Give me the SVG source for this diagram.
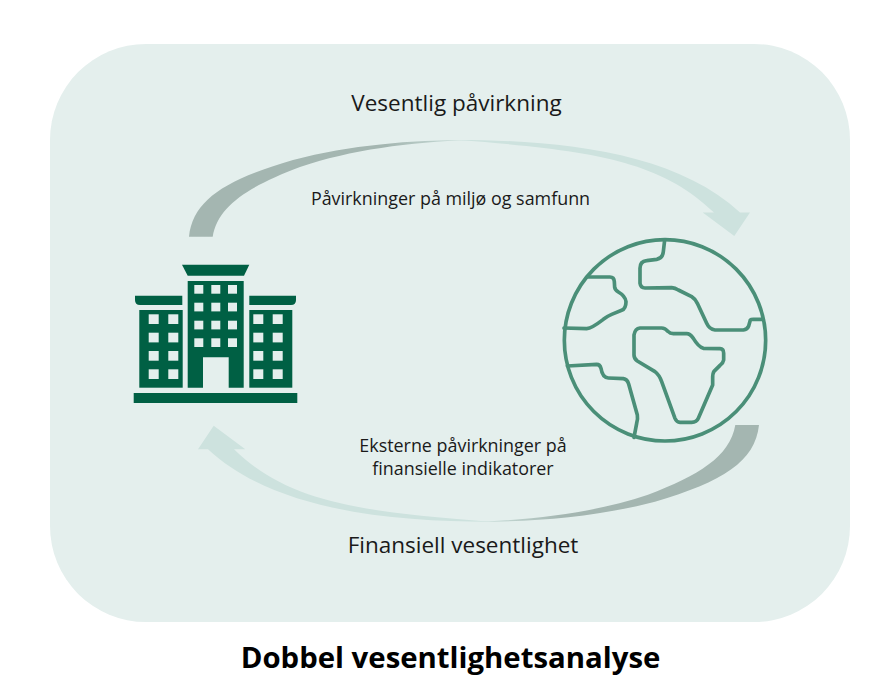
<svg xmlns="http://www.w3.org/2000/svg" width="893" height="675" viewBox="0 0 893 675">
<style>
text{font-family:"Open Sans","Noto Sans",sans-serif;fill:#1a1a1a;text-anchor:middle}
.big{font-size:22.5px}.small{font-size:17.9px}
.title{font-size:29.35px;font-weight:700;fill:#000}
.b{fill:#006044}.w{fill:#e4efed}
.g{fill:none;stroke:#4a8f78;stroke-width:11;stroke-linejoin:round;stroke-linecap:round}
</style>
<defs>
<linearGradient id="dark" x1="0" x2="1" y1="0" y2="0"><stop offset="0" stop-color="#a4b6b1"/><stop offset="0.7" stop-color="#a4b6b1"/><stop offset="1" stop-color="#cde2de"/></linearGradient>
<path id="arcL" d="M189,236.7C193,200 225,180 293,160C350,145 410,140 470,140C410,142 350,150 300,167C250,186 218,205 212.7,236.7Z" fill="url(#dark)"/>
<path id="arcR" d="M458,140C560,140 675,152 740,212.5H750L734.3,236L702.7,212.5H714C660,160 590,150 458,140Z" fill="#cde2de"/>
</defs>
<rect id="panel" x="50" y="44" width="800" height="578" rx="96" ry="96" fill="#e4efed"/>
<g id="connectors">
<g id="top-arrow"><use href="#arcL"/><use href="#arcR"/></g>
<g id="bottom-arrow" transform="rotate(180 474 330.85)"><use href="#arcL"/><use href="#arcR"/></g>
</g>
<g id="building">
<path class="b" d="M182,264.7H249.3L244,275.7H187.7Z"/>
<path class="b" d="M187.7,281H243.7V387.7H228.7V357.3H203V387.7H187.7Z"/>
<path class="b" d="M135,295.7H182.3V305H140Q135,305 135,300Z"/>
<path class="b" d="M249.3,295.7H296V300Q296,305 291,305H249.3Z"/>
<rect class="b" x="139.3" y="310" width="43.4" height="77.7"/>
<rect class="b" x="249.3" y="310" width="43" height="77.7"/>
<rect class="b" x="133.7" y="393" width="163.6" height="10"/>
<g class="w">
<rect x="194.3" y="285" width="9" height="8.7"/><rect x="211.3" y="285" width="9" height="8.7"/><rect x="228" y="285" width="9" height="8.7"/>
<rect x="194.3" y="302.7" width="9" height="8.7"/><rect x="211.3" y="302.7" width="9" height="8.7"/><rect x="228" y="302.7" width="9" height="8.7"/>
<rect x="194.3" y="320.7" width="9" height="8.7"/><rect x="211.3" y="320.7" width="9" height="8.7"/><rect x="228" y="320.7" width="9" height="8.7"/>
<rect x="194.3" y="338.3" width="9" height="8.7"/><rect x="211.3" y="338.3" width="9" height="8.7"/><rect x="228" y="338.3" width="9" height="8.7"/>
<rect x="148.7" y="314.3" width="10" height="9.7"/><rect x="168.3" y="314.3" width="10" height="9.7"/>
<rect x="148.7" y="332.7" width="10" height="9.7"/><rect x="168.3" y="332.7" width="10" height="9.7"/>
<rect x="148.7" y="351" width="10" height="9.7"/><rect x="168.3" y="351" width="10" height="9.7"/>
<rect x="148.7" y="369.3" width="10" height="9.7"/><rect x="168.3" y="369.3" width="10" height="9.7"/>
<rect x="253.3" y="314.3" width="10" height="9.7"/><rect x="272.7" y="314.3" width="10" height="9.7"/>
<rect x="253.3" y="332.7" width="10" height="9.7"/><rect x="272.7" y="332.7" width="10" height="9.7"/>
<rect x="253.3" y="351" width="10" height="9.7"/><rect x="272.7" y="351" width="10" height="9.7"/>
<rect x="253.3" y="369.3" width="10" height="9.7"/><rect x="272.7" y="369.3" width="10" height="9.7"/>
</g>
</g>
<g id="globe" transform="translate(550 230) scale(0.33333)">
<circle class="g" cx="345" cy="331" r="302"/>
<path class="g" d="M344,30L340,65Q338,85 320,88L290,92Q270,94 270,115L270,160Q272,174 285,174L365,173Q375,174 385,180L425,200Q435,206 442,220L470,280Q478,298 495,300L580,300Q592,298 596,288L601,270Q603,268 610,268L640,268"/>
<path class="g" d="M112,141L180,141Q192,141 193,155L194,172Q195,180 205,186Q226,198 228,215Q228,236 215,241L185,253Q175,257 160,268Q125,295 110,296L42,294"/>
<path class="g" d="M52,408L140,403Q150,403 153,415Q157,443 175,444L220,446Q232,448 236,462L262,555Q264,565 260,580L252,622"/>
<path class="g" d="M270,294L335,294Q345,294 355,305Q360,311 370,311L410,311Q420,311 430,325Q445,350 460,355L510,356Q521,356 521,370L521,390Q520,398 510,406L492,424Q488,430 488,445L488,465L445,565Q440,577 425,577L390,577Q380,577 375,565L335,455Q328,435 315,425L262,393Q252,386 252,375L252,315Q255,296 270,294Z"/>
</g>
<text class="big" x="456.5" y="111">Vesentlig påvirkning</text>
<text class="small" x="450.5" y="205">Påvirkninger på miljø og samfunn</text>
<text class="small" x="463" y="452">Eksterne påvirkninger på</text>
<text class="small" x="463" y="475">finansielle indikatorer</text>
<text class="big" x="463" y="553">Finansiell vesentlighet</text>
<text class="title" x="450.5" y="667.5">Dobbel vesentlighetsanalyse</text>
</svg>
